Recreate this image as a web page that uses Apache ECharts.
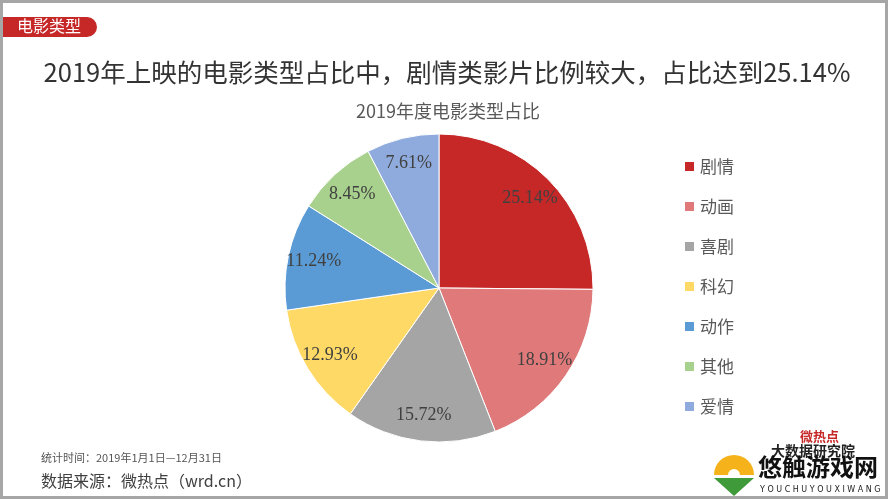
<!DOCTYPE html>
<html>
<head>
<meta charset="utf-8">
<script src="https://cdn.jsdelivr.net/npm/echarts@6/dist/echarts.min.js"></script>
<style>
html, body { margin: 0; padding: 0; background: #fff; }
#pie { width: 888px; height: 500px; }
</style>
</head>
<body>
<div id="pie"></div>
<script>
// 电影类型占比
var types = ['剧情', '动画', '喜剧', '科幻', '动作', '其他', '爱情'];
var shares = [25.14, 18.91, 15.72, 12.93, 11.24, 8.45, 7.61];
var colors = ['#c62828', '#e07979', '#a5a5a5', '#ffd966', '#5b9bd5', '#a9d18e', '#8faadc'];

var myChart = echarts.init(document.getElementById('pie'));

var pieData = [];
var labelData = [];
for (var i = 0; i < types.length; i++) {
    pieData.push({ name: types[i], value: shares[i], itemStyle: { color: colors[i] } });
    labelData.push({ name: types[i], value: shares[i] });
}

var cjk = '"Noto Sans CJK SC", sans-serif';

var option = {
    animation: false,
    title: [{
        text: '2019年上映的电影类型占比中，剧情类影片比例较大，占比达到25.14%',
        left: 442,
        top: 55,
        textAlign: 'center',
        textStyle: { color: '#333', fontSize: 25.5, fontWeight: 'normal', fontFamily: cjk }
    }, {
        text: '2019年度电影类型占比',
        left: 443,
        top: 97,
        textAlign: 'center',
        textStyle: { color: '#595959', fontSize: 18, fontWeight: 'normal', fontFamily: cjk }
    }],
    legend: {
        orient: 'vertical',
        left: 678,
        top: 153,
        itemWidth: 11,
        itemHeight: 11,
        itemGap: 23,
        icon: 'rect',
        data: types,
        textStyle: { color: '#595959', fontSize: 17, fontFamily: cjk }
    },
    series: [{
        name: '电影类型',
        type: 'pie',
        center: [439, 288],
        radius: [0, 154],
        startAngle: 90,
        clockwise: true,
        silent: true,
        label: { show: false },
        labelLine: { show: false },
        itemStyle: { borderColor: '#fff', borderWidth: 1 },
        data: pieData
    }, {
        // 只用来放标签
        name: '标签',
        type: 'pie',
        center: [439, 288],
        radius: [96, 154],
        startAngle: 90,
        silent: true,
        itemStyle: { color: 'rgba(0,0,0,0)' },
        label: {
            show: true,
            position: 'inside',
            formatter: function (p) { return p.value.toFixed(2) + '%'; },
            color: '#404040',
            fontSize: 18,
            fontFamily: '"Liberation Serif", serif'
        },
        labelLine: { show: false },
        data: labelData
    }],
    graphic: [
        // 外框
        { type: 'rect', shape: { x: 1.5, y: 1.5, width: 885, height: 496 }, style: { fill: 'none', stroke: '#a6a6a6', lineWidth: 3 }, silent: true },
        // 标签
        { type: 'rect', shape: { x: 3, y: 17, width: 94, height: 20, r: [0, 10, 10, 0] }, style: { fill: '#c62828' } },
        { type: 'text', left: 17, top: 18, style: { text: '电影类型', fill: '#fff', font: '16px "Noto Sans CJK SC"' } },
        // 底部说明
        { type: 'text', left: 41, top: 452, style: { text: '统计时间：2019年1月1日—12月31日', fill: '#555', font: '11px "Noto Sans CJK SC"' } },
        { type: 'text', left: 41, top: 473, style: { text: '数据来源：微热点（wrd.cn）', fill: '#404040', font: '16px "Noto Sans CJK SC"' } },
        // 水印
        { type: 'sector', shape: { cx: 734, cy: 475, r: 20, r0: 6, startAngle: Math.PI, endAngle: Math.PI * 2 }, style: { fill: '#f5b21b' } },
        { type: 'polygon', shape: { points: [[714, 478], [754, 478], [734, 496]] }, style: { fill: '#3f9a3a' } },
        { type: 'text', left: 800, top: 430, style: { text: '微热点', fill: '#c62828', font: 'bold 13px "Noto Sans CJK SC"' } },
        { type: 'text', left: 771, top: 444, style: { text: '大数据研究院', fill: '#222', font: 'bold 14px "Noto Sans CJK SC"' } },
        { type: 'text', left: 758, top: 455, style: { text: '悠触游戏网', fill: '#111', font: 'bold 24px "Noto Sans CJK SC"' } },
        { type: 'text', left: 760, top: 486, style: { text: 'Y O U C H U Y O U X I W A N G', fill: '#222', font: '8px "DejaVu Sans"' } }
    ]
};

myChart.setOption(option);
</script>
</body>
</html>
